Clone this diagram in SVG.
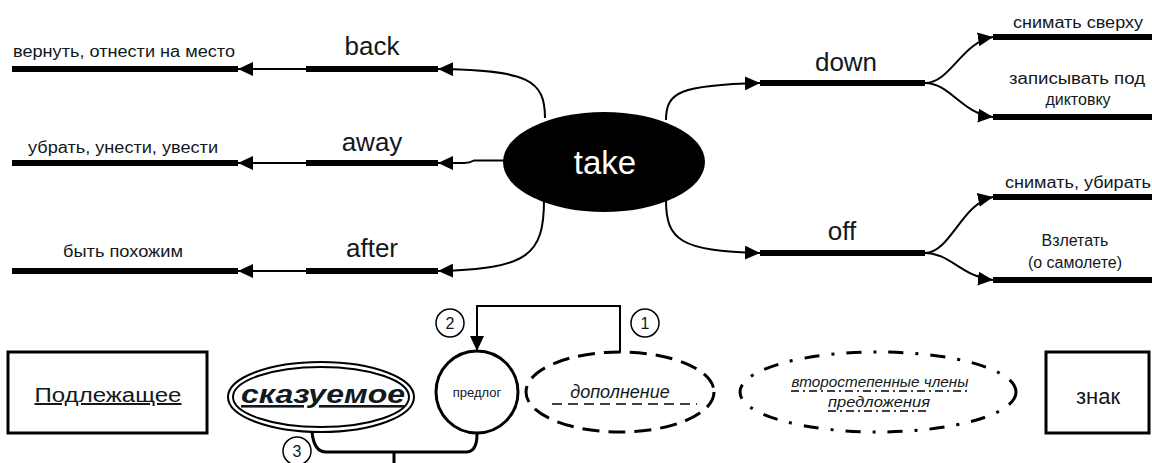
<svg xmlns="http://www.w3.org/2000/svg" width="1152" height="463" viewBox="0 0 1152 463">
<style>
text{font-family:"Liberation Sans",Arial,sans-serif;fill:#111820}
.big{font-size:26px;text-anchor:middle}
.sm{font-size:16px;text-anchor:middle}
.thick{stroke:#000;stroke-width:6;fill:none}
.conn{stroke:#000;stroke-width:2;fill:none}
.node{fill:#fff;stroke:#000;stroke-width:3}
</style>
<defs>
<marker id="ah" viewBox="0 0 15 14" refX="15" refY="7" markerWidth="15" markerHeight="14" markerUnits="userSpaceOnUse" orient="auto">
<path d="M0,0 L15,7 L0,14 Z" fill="#000"/>
</marker>
</defs>

<g id="connectors">
<path class="conn" d="M545,118 C545,80 528,70 438,69" marker-end="url(#ah)"/>
<path class="conn" d="M505,160.5 L474,160.5 Q470,163 464,163 L438,163" marker-end="url(#ah)"/>
<path class="conn" d="M544,200 C544,255 528,269 438,271" marker-end="url(#ah)"/>
<path class="conn" d="M306,69 L238,69" marker-end="url(#ah)"/>
<path class="conn" d="M306,163 L238,163" marker-end="url(#ah)"/>
<path class="conn" d="M306,271 L238,271" marker-end="url(#ah)"/>
<path class="conn" d="M666,120 C666,92 680,85 760,83" marker-end="url(#ah)"/>
<path class="conn" d="M666,200 C666,240 680,251 760,253" marker-end="url(#ah)"/>
<path class="conn" d="M925,83 C950,83 962,42 993,37" marker-end="url(#ah)"/>
<path class="conn" d="M925,83 C950,83 962,114 993,117" marker-end="url(#ah)"/>
<path class="conn" d="M925,253 C950,253 962,203 993,197" marker-end="url(#ah)"/>
<path class="conn" d="M925,253 C950,253 962,277 993,280" marker-end="url(#ah)"/>
<path class="conn" d="M620,352 L620,306 L477,306 L477,351" marker-end="url(#ah)"/>
<path stroke="#000" stroke-width="3" fill="none" d="M312,432 Q314,452 326,452 L466,452 Q477,452 477,434"/>
<path stroke="#000" stroke-width="3" fill="none" d="M394,452 L394,463"/>
</g>

<g id="n-take">
<ellipse cx="604" cy="162" rx="101" ry="50" fill="#000"/>
<text x="605" y="174" style="font-size:33px;text-anchor:middle;fill:#fff">take</text>
</g>

<g id="n-back">
<line class="thick" x1="306" y1="69" x2="438" y2="69"/>
<text class="big" x="372" y="55">back</text>
</g>
<g id="n-away">
<line class="thick" x1="306" y1="163" x2="438" y2="163"/>
<text class="big" x="372" y="151">away</text>
</g>
<g id="n-after">
<line class="thick" x1="306" y1="271" x2="438" y2="271"/>
<text class="big" x="372" y="257">after</text>
</g>
<g id="n-back-m">
<line class="thick" x1="12" y1="69" x2="238" y2="69"/>
<text class="sm" x="124" y="57" textLength="222" lengthAdjust="spacingAndGlyphs">вернуть, отнести на место</text>
</g>
<g id="n-away-m">
<line class="thick" x1="12" y1="163" x2="238" y2="163"/>
<text class="sm" x="123" y="153" textLength="190" lengthAdjust="spacingAndGlyphs">убрать, унести, увести</text>
</g>
<g id="n-after-m">
<line class="thick" x1="12" y1="271" x2="238" y2="271"/>
<text class="sm" x="123" y="257" textLength="120" lengthAdjust="spacingAndGlyphs">быть похожим</text>
</g>

<g id="n-down">
<line class="thick" x1="760" y1="83" x2="925" y2="83"/>
<text class="big" x="846" y="71">down</text>
</g>
<g id="n-off">
<line class="thick" x1="760" y1="253" x2="925" y2="253"/>
<text class="big" x="842" y="240">off</text>
</g>
<g id="n-down-1">
<line class="thick" x1="993" y1="37" x2="1152" y2="37"/>
<text class="sm" x="1078" y="28" textLength="130" lengthAdjust="spacingAndGlyphs">снимать сверху</text>
</g>
<g id="n-down-2">
<line class="thick" x1="993" y1="117" x2="1152" y2="117"/>
<text class="sm" x="1077" y="84" textLength="136" lengthAdjust="spacingAndGlyphs">записывать под</text>
<text class="sm" x="1078" y="105">диктовку</text>
</g>
<g id="n-off-1">
<line class="thick" x1="993" y1="197" x2="1152" y2="197"/>
<text class="sm" x="1078" y="188" textLength="146" lengthAdjust="spacingAndGlyphs">снимать, убирать</text>
</g>
<g id="n-off-2">
<line class="thick" x1="993" y1="280" x2="1152" y2="280"/>
<text class="sm" x="1075" y="246">Взлетать</text>
<text class="sm" x="1075" y="268">(о самолете)</text>
</g>

<g id="n-podl">
<rect class="node" x="8" y="352" width="199" height="81"/>
<text x="108" y="402" style="font-size:20px;text-anchor:middle;text-decoration:underline" textLength="147" lengthAdjust="spacingAndGlyphs">Подлежащее</text>
</g>
<g id="n-skaz">
<ellipse cx="321" cy="397" rx="93" ry="35" fill="#fff" stroke="#000" stroke-width="2"/>
<ellipse cx="321" cy="397" rx="88" ry="30" fill="none" stroke="#000" stroke-width="2"/>
<text x="323" y="403" style="font-size:26px;font-weight:bold;font-style:italic;text-anchor:middle;text-decoration:underline" textLength="164" lengthAdjust="spacingAndGlyphs">сказуемое</text>
</g>
<g id="n-predlog">
<circle class="node" cx="477" cy="392" r="41"/>
<text x="477" y="397" style="font-size:13px;text-anchor:middle">предлог</text>
</g>
<g id="n-dop">
<ellipse cx="620" cy="392" rx="94" ry="40" fill="none" stroke="#000" stroke-width="3" stroke-dasharray="17 9"/>
<text x="620" y="398" style="font-size:18px;font-style:italic;text-anchor:middle">дополнение</text>
<line x1="552" y1="404" x2="697" y2="404" stroke="#000" stroke-width="1.3" stroke-dasharray="10 6"/>
</g>
<g id="n-vtor">
<ellipse cx="878" cy="392" rx="138" ry="40" fill="none" stroke="#000" stroke-width="3" stroke-dasharray="15 12 3 12"/>
<text x="880" y="387" style="font-size:14px;font-style:italic;text-anchor:middle" textLength="177" lengthAdjust="spacingAndGlyphs">второстепенные члены</text>
<text x="879" y="407" style="font-size:14px;font-style:italic;text-anchor:middle" textLength="102" lengthAdjust="spacingAndGlyphs">предложения</text>
<line x1="791" y1="391" x2="968" y2="391" stroke="#000" stroke-width="1.3" stroke-dasharray="8 4 2 4"/>
<line x1="828" y1="411" x2="930" y2="411" stroke="#000" stroke-width="1.3" stroke-dasharray="8 4 2 4"/>
</g>
<g id="n-znak">
<rect class="node" x="1046" y="352" width="103" height="81"/>
<text x="1098" y="404" style="font-size:22px;text-anchor:middle">знак</text>
</g>
<g id="n-c1">
<circle cx="645" cy="323" r="14" fill="#fff" stroke="#000" stroke-width="1.5"/>
<text x="645" y="329" style="font-size:16px;text-anchor:middle">1</text>
</g>
<g id="n-c2">
<circle cx="450" cy="323" r="14" fill="#fff" stroke="#000" stroke-width="1.5"/>
<text x="450" y="329" style="font-size:16px;text-anchor:middle">2</text>
</g>
<g id="n-c3">
<circle cx="297" cy="451" r="14" fill="#fff" stroke="#000" stroke-width="1.5"/>
<text x="297" y="457" style="font-size:16px;text-anchor:middle">3</text>
</g>
</svg>
